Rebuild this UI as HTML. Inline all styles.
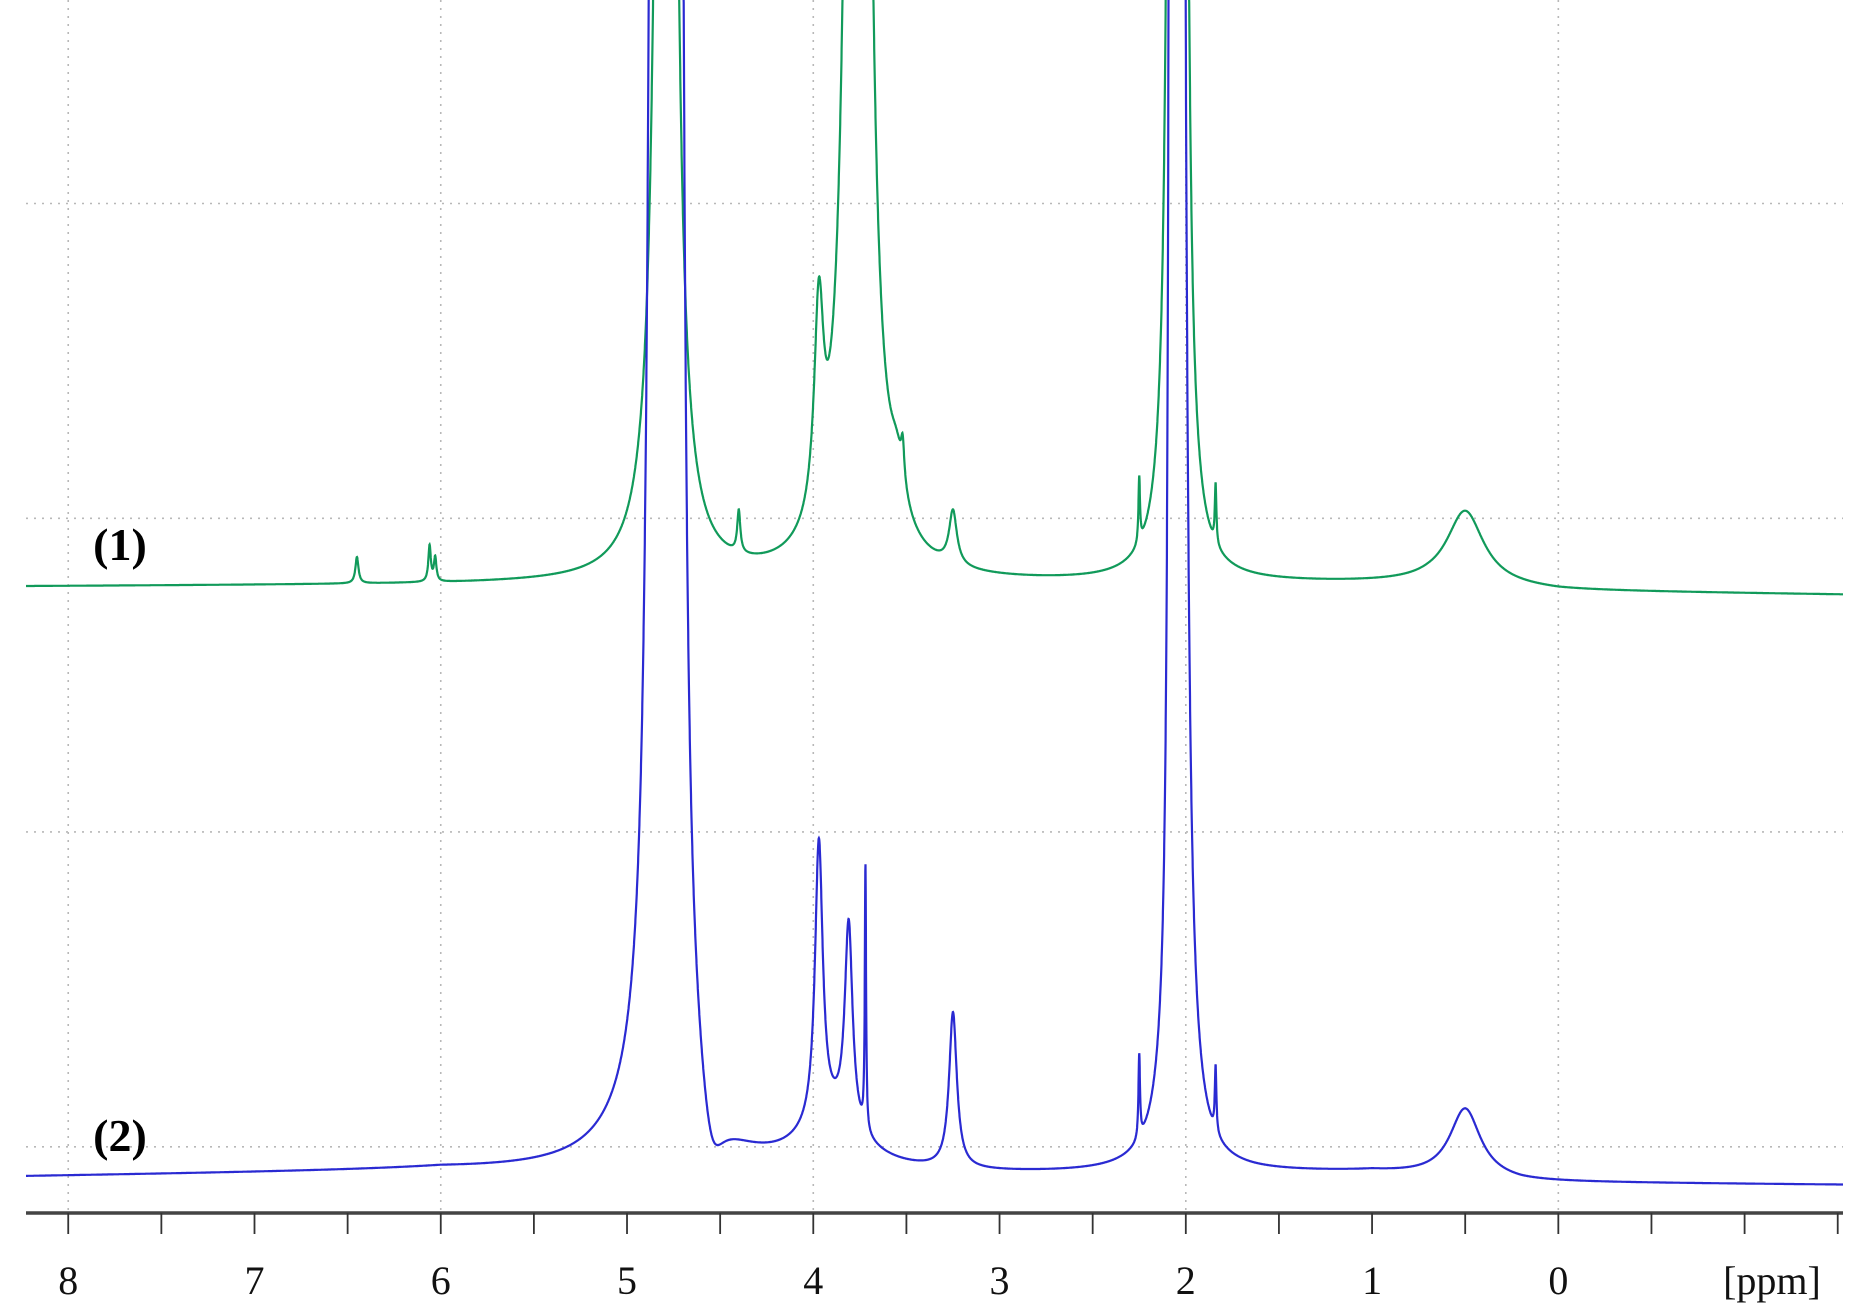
<!DOCTYPE html>
<html><head><meta charset="utf-8">
<style>
html,body{margin:0;padding:0;background:#fff;}
svg{display:block;}
text{font-family:"Liberation Serif",serif;}
</style></head>
<body>
<svg id="chart" width="1871" height="1315" viewBox="0 0 1871 1315" xmlns="http://www.w3.org/2000/svg">
<defs><clipPath id="plotclip"><rect x="26" y="0" width="1817" height="1212"/></clipPath></defs>
<g id="grid"></g>
<g id="series" clip-path="url(#plotclip)"></g>
<g id="axis"></g>
<text x="120" y="560" font-size="46" font-weight="bold" text-anchor="middle">(1)</text>
<text x="120" y="1151" font-size="46" font-weight="bold" text-anchor="middle">(2)</text>
</svg>
<script>
// ---- data ----
const xTicks = [8,7.5,7,6.5,6,5.5,5,4.5,4,3.5,3,2.5,2,1.5,1,0.5,0,-0.5,-1,-1.5];
const xTickLabels = ["8","7","6","5","4","3","2","1","0"];
const xLabelValues = [8,7,6,5,4,3,2,1,0];
const gridPpm = [8,6,4,2,0];
const gridLevels = [170,433,695,958];
// spectrum 1 (green) peaks: center ppm, height, half-width
const s1Centers = [6.45,6.06,6.03,4.79,4.40,3.97,3.76,3.55,3.52,3.25,2.25,2.07,2.02,1.84,0.50];
const s1Heights = [22,30,20,5000,35,170,5000,40,30,45,55,3000,3000,50,62];
const s1Widths  = [0.01,0.008,0.008,0.023,0.01,0.03,0.027,0.05,0.01,0.025,0.005,0.015,0.015,0.005,0.12];
const s1BasePpm = [8.22,5.0,0.7,0.0,-1.53];
const s1BaseVal = [490,488,488,494,497];
// spectrum 2 (blue) peaks
const s2Centers = [4.84,4.735,4.80,4.55,3.97,3.81,3.72,3.90,3.25,2.25,2.08,2.03,1.84,0.50];
const s2Heights = [6000,6000,55,-60,235,170,220,40,130,70,2500,3000,55,58];
const s2Widths  = [0.018,0.016,0.25,0.08,0.025,0.025,0.004,0.2,0.025,0.005,0.008,0.02,0.005,0.1];
const s2BasePpm = [8.22,6.0,4.6,1.0,0.2,-1.53];
const s2BaseVal = [983,978,985,980,988,990];

// ---- scales ----
const F = 1871/1563;
const xL = 26, xR = 1843;
function xScale(ppm){ return (57 + (8-ppm)*155.6)*F; }
function yScale(v){ return v*F; }
const ppmLeft = 8 + (57 - xL/F)/155.6;
const ppmRight = 8 - (xR/F - 57)/155.6;
const NS="http://www.w3.org/2000/svg";
function mk(tag, attrs, parent){ const e=document.createElementNS(NS,tag); for(const k in attrs) e.setAttribute(k,attrs[k]); parent.appendChild(e); return e; }

const grid=document.getElementById('grid');
gridPpm.forEach(p=>{
  const l=mk('line',{x1:xScale(p),x2:xScale(p),y1:0,y2:1212,stroke:'#b8b8b8','stroke-width':1.6,'stroke-dasharray':'2 6'},grid);
  
  
});
gridLevels.forEach(v=>{
  const l=mk('line',{x1:xL,x2:xR,y1:yScale(v),y2:yScale(v),stroke:'#b8b8b8','stroke-width':1.6,'stroke-dasharray':'2 6'},grid);
  
  
});

function interp(px, pv, p){
  for(let i=0;i<px.length-1;i++){
    if(p<=px[i] && p>=px[i+1]){ const t=(px[i]-p)/(px[i]-px[i+1]); return pv[i]+t*(pv[i+1]-pv[i]); }
  }
  return p>px[0]?pv[0]:pv[pv.length-1];
}
function buildPath(c,h,w,bp,bv){
  let d='';
  for(let p=ppmLeft; p>=ppmRight; p-=0.001){
    let I=0;
    for(let i=0;i<c.length;i++){ const z=(p-c[i])/w[i]; I+=h[i]/(1+z*z); }
    let y=yScale(interp(bp,bv,p)-I);
    if(y<-5) y=-5;
    d+=(d?'L':'M')+xScale(p).toFixed(1)+' '+y.toFixed(1);
  }
  return d;
}
const series=document.getElementById('series');
const p1=mk('path',{d:buildPath(s1Centers,s1Heights,s1Widths,s1BasePpm,s1BaseVal),fill:'none',stroke:'#119a5a','stroke-width':2.2},series);


const p2=mk('path',{d:buildPath(s2Centers,s2Heights,s2Widths,s2BasePpm,s2BaseVal),fill:'none',stroke:'#2a2ad2','stroke-width':2.2},series);



const axis=document.getElementById('axis');
const al=mk('line',{x1:xL,x2:xR,y1:1213,y2:1213,stroke:'#444','stroke-width':3.5},axis);


xTicks.forEach(t=>{
  const l=mk('line',{x1:xScale(t),x2:xScale(t),y1:1213,y2:1234,stroke:'#333','stroke-width':1.8},axis);
  
  
});
xLabelValues.forEach((v,i)=>{
  const t=mk('text',{x:xScale(v),y:1294,'font-size':40,'text-anchor':'middle',fill:'#111'},axis);
  t.textContent=xTickLabels[i];
  
  
});
const u=mk('text',{x:1772,y:1294,'font-size':40,'text-anchor':'middle',fill:'#111'},axis);
u.textContent='[ppm]';


</script>
</body></html>
